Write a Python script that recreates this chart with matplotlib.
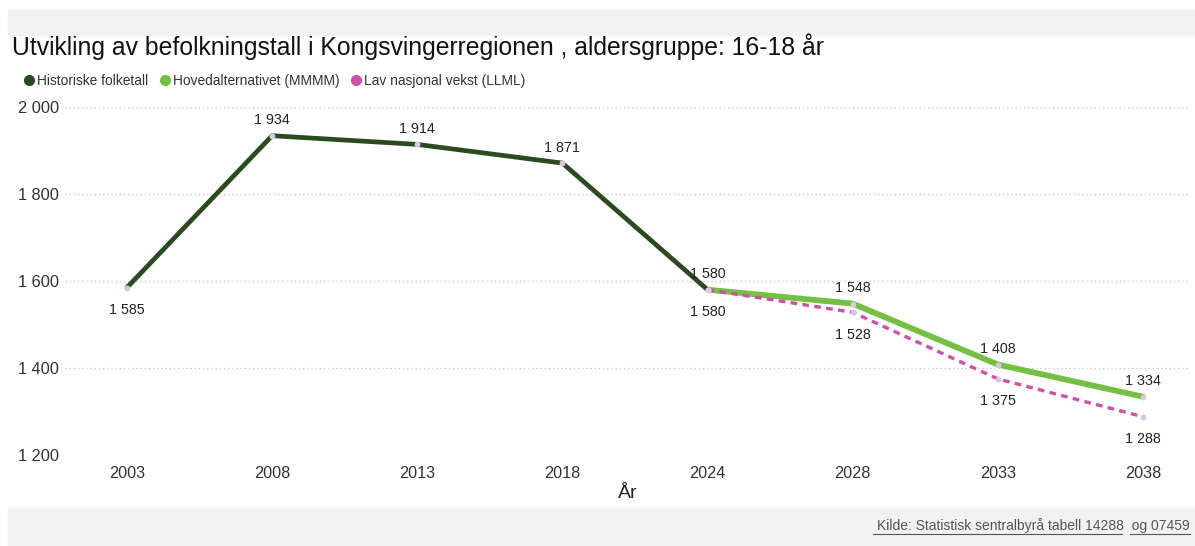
import matplotlib.pyplot as plt
from matplotlib.lines import Line2D
from matplotlib.patches import Rectangle

plt.rcParams['font.family'] = ['Liberation Sans', 'DejaVu Sans']

# Data
aar = ['2003', '2008', '2013', '2018', '2024', '2028', '2033', '2038']
historisk = [1585, 1934, 1914, 1871, 1580]
hoved = [1580, 1548, 1408, 1334]     # MMMM, fra 2024
lav = [1580, 1528, 1375, 1288]       # LLML, fra 2024
yticks = [1200, 1400, 1600, 1800, 2000]

farge_hist = '#2b4a1f'
farge_hoved = '#74c043'
farge_lav = '#d04fa8'
farge_punkt = '#d9c6e0'


def fmt(v):
    return f'{v:,}'.replace(',', ' ')


W, H = 1195, 546
fig = plt.figure(figsize=(W / 100, H / 100), dpi=100)
fig.patch.set_facecolor('white')

# grå bånd topp og bunn
fig.patches.append(Rectangle((8 / W, 1 - 35 / H), 1, 25 / H, transform=fig.transFigure,
                             color='#f0f1f0', zorder=-10))
fig.patches.append(Rectangle((8 / W, 0), 1, 38 / H, transform=fig.transFigure,
                             color='#f0f1f0', zorder=-10))

ax = fig.add_axes([65 / W, 1 - 455 / H, 1125 / W, 348 / H])
ax.set_facecolor('none')

x_hist = list(range(len(historisk)))
x_proj = list(range(4, 4 + len(hoved)))

ax.plot(x_hist, historisk, color=farge_hist, lw=3.4, zorder=3, solid_capstyle='round')
ax.plot(x_proj, hoved, color=farge_hoved, lw=4.2, zorder=2, solid_capstyle='round')
ax.plot(x_proj, lav, color=farge_lav, lw=2.4, ls=(0, (2, 1.6)), zorder=2)
for xs, ys in [(x_hist, historisk), (x_proj, hoved), (x_proj, lav)]:
    ax.scatter(xs, ys, s=18, color=farge_punkt, zorder=4, linewidths=0)

# dataetiketter
lab = dict(ha='center', fontsize=10.3, color='#222222')
for i, v in enumerate(historisk):
    if i == 0:
        ax.annotate(fmt(v), (i, v), xytext=(0, -11), textcoords='offset points', va='top', **lab)
    else:
        ax.annotate(fmt(v), (i, v), xytext=(0, 6), textcoords='offset points', va='bottom', **lab)
for i, v in zip(x_proj, hoved):
    if i == 4:
        ax.annotate(fmt(v), (i, v), xytext=(0, -11), textcoords='offset points', va='top', **lab)
    else:
        ax.annotate(fmt(v), (i, v), xytext=(0, 6), textcoords='offset points', va='bottom', **lab)
for i, v in zip(x_proj, lav):
    if i == 4:
        continue
    ax.annotate(fmt(v), (i, v), xytext=(0, -11), textcoords='offset points', va='top', **lab)

ax.set_xlim(-0.427, 7.324)
ax.set_ylim(1200, 2000)
ax.set_xticks(range(len(aar)))
ax.set_xticklabels(aar, fontsize=11.7, color='#333333')
ax.set_yticks(yticks)
ax.set_yticklabels([fmt(v) for v in yticks], fontsize=11.8, color='#333333', ha='left')
ax.tick_params(axis='y', length=0, pad=34)
ax.tick_params(axis='x', length=0, pad=8)
ax.grid(axis='y', color='#c8c8c8', ls=(0, (1, 2)), lw=1)
for s in ax.spines.values():
    s.set_visible(False)
ax.set_xlabel('År', fontsize=14, color='#222222', labelpad=3)

fig.text(12 / W, 1 - 47 / H, 'Utvikling av befolkningstall i Kongsvingerregionen , aldersgruppe: 16-18 år',
         fontsize=17.8, va='center', ha='left', color='#111111')

handles = [Line2D([], [], marker='o', ls='none', color=c, markersize=7)
           for c in [farge_hist, farge_hoved, farge_lav]]
fig.legend(handles, ['Historiske folketall', 'Hovedalternativet (MMMM)', 'Lav nasjonal vekst (LLML)'],
           loc='center left', bbox_to_anchor=(8 / W, 1 - 81 / H), ncol=3, frameon=False,
           fontsize=9.9, handletextpad=0.0, columnspacing=0.6, handlelength=1.2,
           labelcolor='#333333')

fig.text(1190 / W, 1 - 526 / H, 'Kilde: Statistisk sentralbyrå tabell 14288  og 07459',
         fontsize=10, ha='right', va='center', color='#555555')
fig.add_artist(Line2D([873 / W, 1122 / W], [1 - 534 / H, 1 - 534 / H], color='#555555', lw=0.8))
fig.add_artist(Line2D([1130 / W, 1190 / W], [1 - 534 / H, 1 - 534 / H], color='#555555', lw=0.8))

fig.savefig('out.png', dpi=100)
